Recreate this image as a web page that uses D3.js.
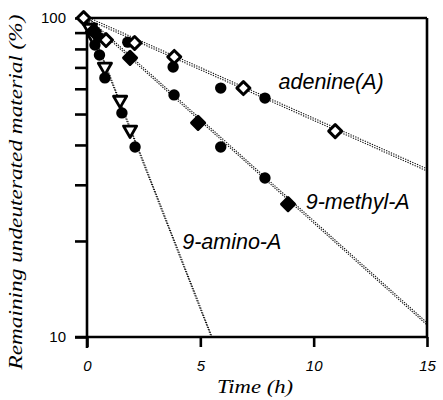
<!DOCTYPE html>
<html><head><meta charset="utf-8">
<script src="https://cdn.jsdelivr.net/npm/d3@7"></script>
<style>body{margin:0;background:#fff}svg{display:block}</style>
</head><body>
<svg id="c" width="443" height="400"></svg>
<script>
// ---- data (time in h, remaining %) ----
const adenineDiaT = [-0.15, 0.84, 2.1, 3.85, 6.9, 10.95];
const adenineDiaV = [100, 85.3, 83.5, 75.5, 60.3, 44.2];
const adenineCircT = [1.8, 3.8, 5.9, 7.85];
const adenineCircV = [84, 70.2, 60.3, 56.1];
const methylDiaT = [0.3, 1.9, 4.9, 8.87];
const methylDiaV = [91, 75, 46.9, 26.1];
const methylCircT = [0.5, 3.84, 5.9, 7.85];
const methylCircV = [87, 57.4, 39.4, 31.5];
const aminoTriT = [0.13, 0.26, 0.79, 1.46, 1.9];
const aminoTriV = [93, 88, 70.2, 55.3, 44.6];
const aminoCircT = [0.35, 0.55, 0.79, 1.54, 2.12];
const aminoCircV = [82.3, 76.6, 64.9, 50.4, 39.4];
const fitAdenineT = [0, 15], fitAdenineV = [100, 33.4];
const fitMethylT = [0, 15], fitMethylV = [100, 11];
const fitAminoT = [0, 5.5], fitAminoV = [100, 10];
const xTicks = [0, 5, 10, 15];
const yTicks = [10, 20, 30, 40, 50, 60, 70, 80, 90, 100];
const yTickLabels = {10: "10", 100: "100"};
const seriesLabels = [
  {text: "adenine(A)", t: 8.45, v: 60},
  {text: "9-methyl-A", t: 9.65, v: 25.2},
  {text: "9-amino-A", t: 4.2, v: 18.9}
];

const svg = d3.select("#c");
const L = 87, R = 427, T = 18, B = 337;
const x = d3.scaleLinear().domain([0, 15]).range([L, R]);
const y = d3.scaleLog().domain([10, 100]).range([B, T]);

// fit lines (double dotted)
const zip = (a, b) => a.map((d, i) => [d, b[i]]);
function fit(ts, vs) {
  const pts = zip(ts, vs);
  [-1.1, 1.1].forEach(off => {
    svg.append("path")
      .attr("d", d3.line().x(d => x(d[0])).y(d => y(d[1]) + off)(pts))
      .attr("fill", "none").attr("stroke", "#111").attr("stroke-width", 1.1)
      .attr("stroke-dasharray", "1.3,1.3");
  });
}
fit(fitAdenineT, fitAdenineV);
fit(fitMethylT, fitMethylV);
fit(fitAminoT, fitAminoV);

// axes
const gx = svg.append("g").attr("transform", `translate(0,${B})`)
  .call(d3.axisBottom(x).tickValues(xTicks).tickSize(10).tickPadding(13).tickFormat(d3.format("d")));
const gy = svg.append("g").attr("transform", `translate(${L},0)`)
  .call(d3.axisLeft(y).tickValues(yTicks).tickSize(12).tickPadding(9).tickFormat(d => yTickLabels[d] || ""));
[gx, gy].forEach(g => {
  g.select(".domain").attr("stroke", "#000").attr("stroke-width", 2.6);
  g.selectAll(".tick line").attr("stroke", "#000").attr("stroke-width", 2.6);
  g.selectAll("text").attr("fill", "#000").attr("font-family", "'Liberation Sans', Arial, sans-serif").attr("font-size", 15);
});
gx.selectAll("text").attr("font-style", "italic");
gx.select(".domain").attr("d", `M${L - 12},0H${R}`);
gy.select(".domain").attr("d", `M0,${T}V${B + 11}`);
// top and right frame
svg.append("line").attr("x1", L).attr("x2", R).attr("y1", T).attr("y2", T).attr("stroke", "#000").attr("stroke-width", 2.6);
svg.append("line").attr("x1", R).attr("x2", R).attr("y1", T).attr("y2", B).attr("stroke", "#000").attr("stroke-width", 2.6);

// markers
const diamond = d3.symbol().type(d3.symbolSquare).size(84)();
const tri = d3.symbol().type(d3.symbolTriangle).size(75)();
function markers(ts, vs, kind) {
  const g = svg.append("g");
  zip(ts, vs).forEach(([t, v]) => {
    if (kind === "circle") {
      g.append("circle").attr("cx", x(t)).attr("cy", y(v)).attr("r", 5.7).attr("fill", "#000");
    } else if (kind === "openDia" || kind === "fillDia") {
      g.append("path").attr("d", diamond)
        .attr("transform", `translate(${x(t)},${y(v)}) rotate(45)`)
        .attr("fill", kind === "openDia" ? "#fff" : "#000")
        .attr("stroke", "#000").attr("stroke-width", 3).attr("stroke-linejoin", "round");
    } else if (kind === "tri") {
      g.append("path").attr("d", tri)
        .attr("transform", `translate(${x(t)},${y(v)}) rotate(180)`)
        .attr("fill", "#fff").attr("stroke", "#000").attr("stroke-width", 2.8).attr("stroke-linejoin", "round");
    }
  });
}
markers(aminoCircT, aminoCircV, "circle");
markers(aminoTriT, aminoTriV, "tri");
markers(methylCircT, methylCircV, "circle");
markers(methylDiaT, methylDiaV, "fillDia");
markers(adenineCircT, adenineCircV, "circle");
markers(adenineDiaT, adenineDiaV, "openDia");

// series labels
seriesLabels.forEach(s => {
  svg.append("text").attr("x", x(s.t)).attr("y", y(s.v))
    .attr("font-family", "'Liberation Sans', Arial, sans-serif").attr("font-style", "italic")
    .attr("font-size", 21.5).attr("fill", "#000").text(s.text);
});

// axis titles
svg.append("text").attr("x", 255).attr("y", 393).attr("text-anchor", "middle")
  .attr("font-family", "'Liberation Serif', 'Times New Roman', serif").attr("font-style", "italic")
  .attr("font-size", 19).attr("textLength", 76).attr("lengthAdjust", "spacingAndGlyphs").text("Time (h)");
svg.append("text").attr("transform", "translate(22,192) rotate(-90)").attr("text-anchor", "middle")
  .attr("font-family", "'Liberation Serif', 'Times New Roman', serif").attr("font-style", "italic")
  .attr("font-size", 19).attr("textLength", 355).attr("lengthAdjust", "spacingAndGlyphs")
  .text("Remaining undeuterated material (%)");
</script>
</body></html>
